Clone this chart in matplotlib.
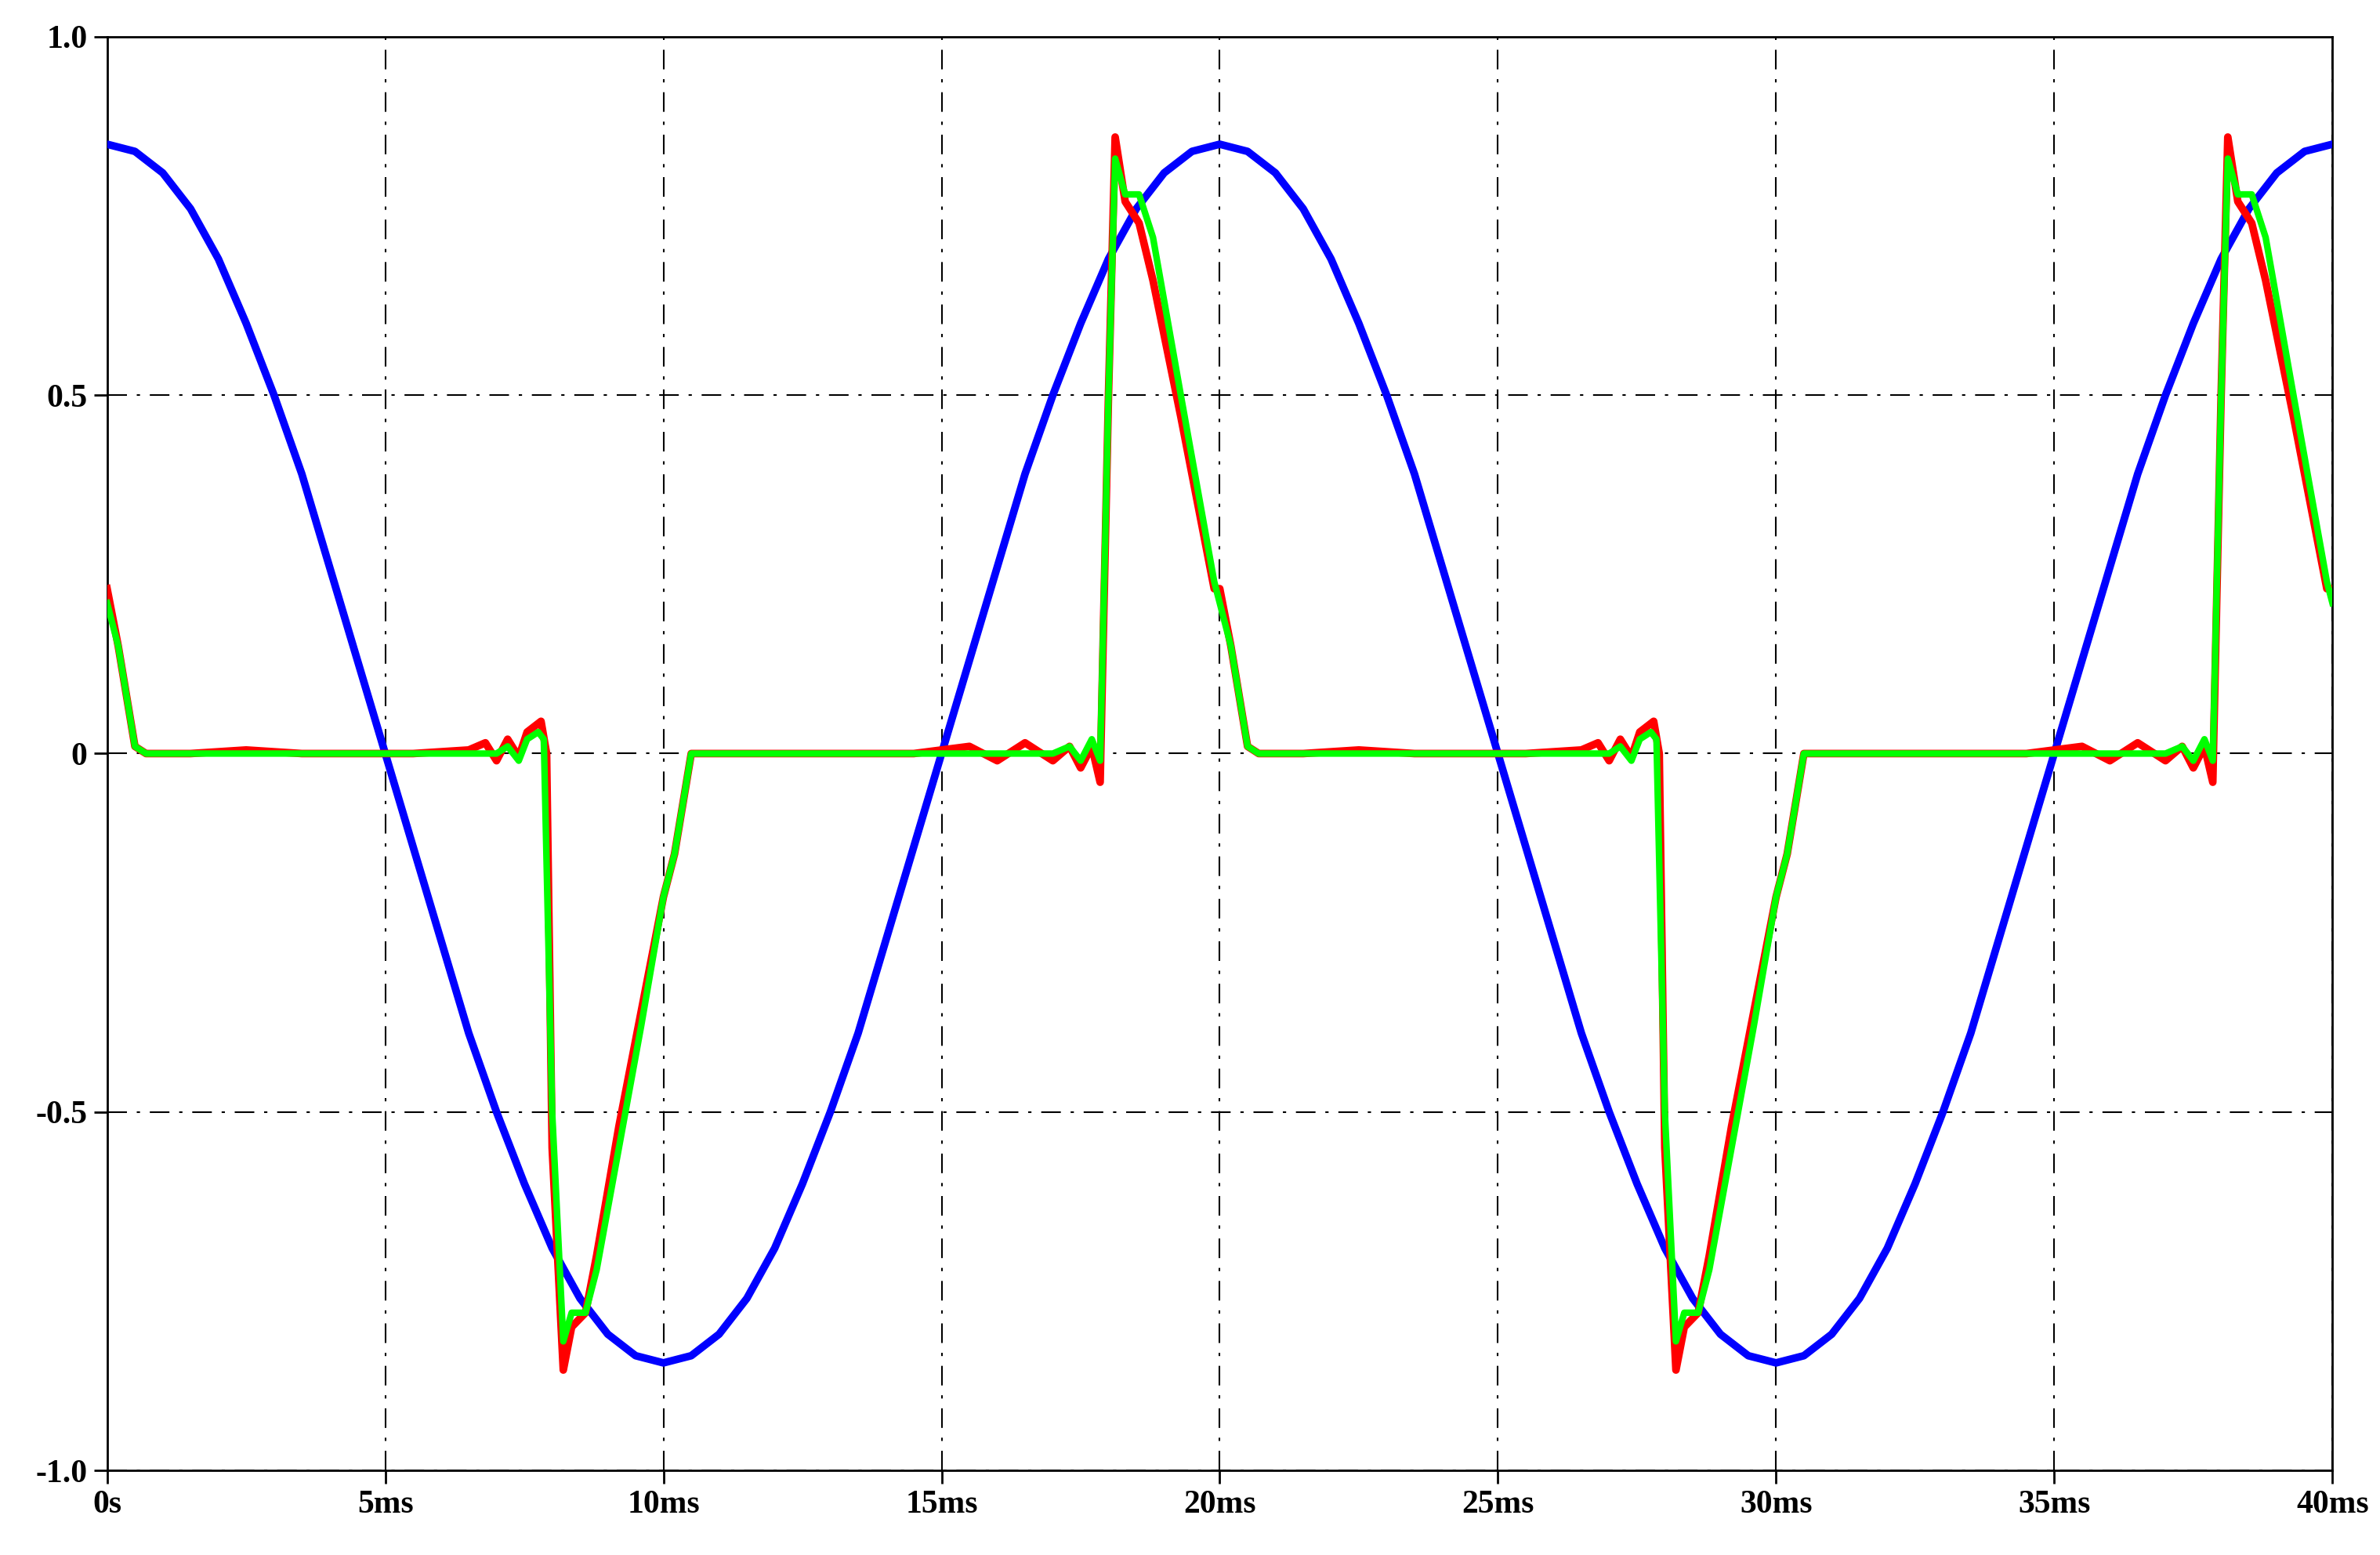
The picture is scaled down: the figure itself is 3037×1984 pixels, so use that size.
import numpy as np
import matplotlib
matplotlib.use("Agg")
import matplotlib.pyplot as plt

blue_period = [0.85,0.84,0.81,0.76,0.69,0.60,0.50,0.39,0.26,0.13,0.0,
               -0.13,-0.26,-0.39,-0.50,-0.60,-0.69,-0.76,-0.81,-0.84,-0.85,
               -0.84,-0.81,-0.76,-0.69,-0.60,-0.50,-0.39,-0.26,-0.13,0.0,
               0.13,0.26,0.39,0.50,0.60,0.69,0.76,0.81,0.84]
blue_t = np.arange(0, 40.01, 0.5)
blue_v = blue_period + blue_period + [0.85]

# green: one period (ms, value)
green_t = [0.0,0.2,0.5,0.7,1.5,2.5,3.5,4.5,5.5,6.5,7.0,7.2,7.4,7.55,7.75,7.85,8.0,8.2,8.35,8.6,8.8,9.2,9.6,10.0,10.2,10.5,
           11.5,12.5,13.5,14.5,15.5,16.5,17.0,17.3,17.5,17.7,17.85,18.0,18.12,18.3,18.55,18.8,19.3,19.6,19.9,20.0]
green_v = [0.21,0.15,0.01,0.0,0.0,0.0,0.0,0.0,0.0,0.0,0.0,0.01,-0.01,0.02,0.03,0.02,-0.5,-0.82,-0.78,-0.78,-0.72,-0.55,-0.38,-0.2,-0.14,0.0,
           0.0,0.0,0.0,0.0,0.0,0.0,0.0,0.01,-0.01,0.02,-0.01,0.5,0.83,0.78,0.78,0.72,0.5,0.37,0.24,0.21]
red_t = [0.0,0.2,0.5,0.7,1.5,2.5,3.5,4.5,5.5,6.5,6.8,7.0,7.2,7.4,7.55,7.8,7.9,8.0,8.2,8.35,8.6,8.8,9.2,9.6,10.0,10.2,10.5,
         11.5,12.5,13.5,14.5,15.5,16.0,16.5,17.0,17.3,17.5,17.7,17.85,18.0,18.12,18.3,18.55,18.8,19.3,19.6,19.9,20.0]
red_v = [0.23,0.15,0.01,0.0,0.0,0.005,0.0,0.0,0.0,0.005,0.015,-0.01,0.02,-0.005,0.03,0.045,0.0,-0.55,-0.86,-0.8,-0.78,-0.7,-0.52,-0.36,-0.2,-0.14,0.0,
         0.0,0.0,0.0,0.0,0.01,-0.01,0.015,-0.01,0.01,-0.02,0.01,-0.04,0.5,0.86,0.77,0.74,0.66,0.47,0.35,0.23,0.23]

xticks = [0,5,10,15,20,25,30,35,40]
xlabels = ["0s","5ms","10ms","15ms","20ms","25ms","30ms","35ms","40ms"]
yticks = [-1.0,-0.5,0,0.5,1.0]
ylabels = ["-1.0","-0.5","0","0.5","1.0"]

def two(t, v):
    t = np.array(t); v = np.array(v)
    return np.concatenate([t, t[1:] + 20]), np.concatenate([v, v[1:]])

fig = plt.figure(figsize=(30.37, 19.84), dpi=100)
ax = fig.add_axes([0.045, 0.0544, 0.935, 0.922])
rt, rv = two(red_t, red_v)
gt, gv = two(green_t, green_v)
ax.plot(blue_t, blue_v, color="#0000ff", lw=7, zorder=3)
ax.plot(rt, rv, color="#ff0000", lw=7, zorder=4)
ax.plot(gt, gv, color="#00ff00", lw=6, zorder=5)
ax.set_xlim(0, 40); ax.set_ylim(-1, 1)
ax.set_xticks(xticks); ax.set_xticklabels(xlabels)
ax.set_yticks(yticks); ax.set_yticklabels(ylabels)
ax.grid(True, color="black", lw=1.5, linestyle=(0, (12, 6, 2, 6)))
for s in ax.spines.values():
    s.set_linewidth(2)
ax.tick_params(length=12, width=2, direction="out", pad=6)
for lab in ax.get_xticklabels() + ax.get_yticklabels():
    lab.set_family("Liberation Serif"); lab.set_fontweight("bold"); lab.set_fontsize(30)
fig.savefig("out.png", dpi=100)
